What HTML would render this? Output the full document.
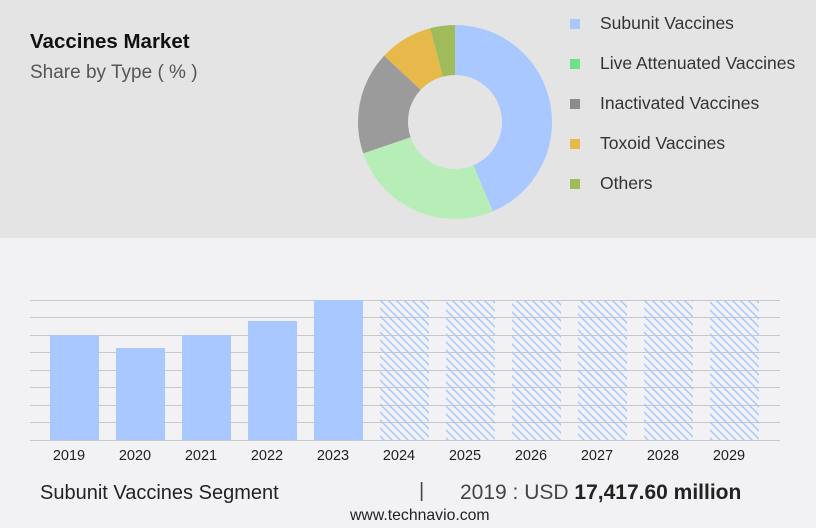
<!DOCTYPE html>
<html><head><meta charset="utf-8"><style>
body{margin:0;width:816px;height:528px;background:#f2f2f4;font-family:"Liberation Sans","DejaVu Sans",sans-serif;position:relative;overflow:hidden}
.top{position:absolute;left:0;top:0;width:816px;height:238px;background:#e4e4e4}
.t{position:absolute;white-space:nowrap;color:#222}
.lg{position:absolute;font-size:17.5px;color:#333}
.sw{position:absolute;width:10px;height:10px}
</style></head><body>
<div class="top"></div>
<div class="t" style="left:30px;top:30px;font-size:20.5px;font-weight:bold;color:#111">Vaccines Market</div>
<div class="t" style="left:30px;top:62px;font-size:19px;color:#555">Share by Type ( % )</div>
<svg style="position:absolute;left:0;top:0" width="816" height="238">
<g transform="rotate(-90 455 122)" fill="none" stroke-width="50">
<circle cx="455" cy="122" r="72" stroke="#a8c8ff" stroke-dasharray="197.3 452.4" stroke-dashoffset="0"/>
<circle cx="455" cy="122" r="72" stroke="#b7eeb8" stroke-dasharray="118.1 452.4" stroke-dashoffset="-197.3"/>
<circle cx="455" cy="122" r="72" stroke="#9b9b9b" stroke-dasharray="77.9 452.4" stroke-dashoffset="-315.4"/>
<circle cx="455" cy="122" r="72" stroke="#e6b94a" stroke-dasharray="40.2 452.4" stroke-dashoffset="-393.3"/>
<circle cx="455" cy="122" r="72" stroke="#9fbb5a" stroke-dasharray="18.9 452.4" stroke-dashoffset="-433.5"/>
</g></svg>
<div class="sw" style="left:570px;top:19px;background:#a8c8ff"></div><div class="lg" style="left:600px;top:13px">Subunit Vaccines</div>
<div class="sw" style="left:570px;top:59px;background:#6ee08a"></div><div class="lg" style="left:600px;top:53px">Live Attenuated Vaccines</div>
<div class="sw" style="left:570px;top:99px;background:#8c8c8c"></div><div class="lg" style="left:600px;top:93px">Inactivated Vaccines</div>
<div class="sw" style="left:570px;top:139px;background:#e6b94a"></div><div class="lg" style="left:600px;top:133px">Toxoid Vaccines</div>
<div class="sw" style="left:570px;top:179px;background:#9fbb5a"></div><div class="lg" style="left:600px;top:173px">Others</div>
<svg style="position:absolute;left:0;top:0" width="816" height="470">
<defs><pattern id="h" width="8" height="8" patternUnits="userSpaceOnUse"><path d="M-2,-2 L10,10 M-2,6 L2,10 M6,-2 L10,2" stroke="#a8c8ff" stroke-width="1.5"/></pattern></defs>
<g stroke="#c8c8c8" stroke-width="1">
<line x1="30" x2="780" y1="300.5" y2="300.5"/><line x1="30" x2="780" y1="317.5" y2="317.5"/><line x1="30" x2="780" y1="335.5" y2="335.5"/><line x1="30" x2="780" y1="352.5" y2="352.5"/><line x1="30" x2="780" y1="370.5" y2="370.5"/><line x1="30" x2="780" y1="387.5" y2="387.5"/><line x1="30" x2="780" y1="405.5" y2="405.5"/><line x1="30" x2="780" y1="422.5" y2="422.5"/><line x1="30" x2="780" y1="440.5" y2="440.5"/>
</g>
<g fill="#a8c8ff">
<rect x="50" y="335" width="49" height="105"/><rect x="116" y="348" width="49" height="92"/><rect x="182" y="335" width="49" height="105"/><rect x="248" y="321" width="49" height="119"/><rect x="314" y="300" width="49" height="140"/>
</g>
<g fill="url(#h)">
<rect x="380" y="300" width="49" height="140"/><rect x="446" y="300" width="49" height="140"/><rect x="512" y="300" width="49" height="140"/><rect x="578" y="300" width="49" height="140"/><rect x="644" y="300" width="49" height="140"/><rect x="710" y="300" width="49" height="140"/>
</g>
<g font-size="14.5" fill="#222" text-anchor="middle" font-family="Liberation Sans,sans-serif">
<text x="69" y="460">2019</text><text x="135" y="460">2020</text><text x="201" y="460">2021</text><text x="267" y="460">2022</text><text x="333" y="460">2023</text><text x="399" y="460">2024</text><text x="465" y="460">2025</text><text x="531" y="460">2026</text><text x="597" y="460">2027</text><text x="663" y="460">2028</text><text x="729" y="460">2029</text>
</g></svg>
<div class="t" style="left:40px;top:482px;font-size:20px">Subunit Vaccines Segment</div>
<div class="t" style="left:419px;top:480px;font-size:20px;color:#444">|</div>
<div class="t" style="left:460px;top:481px;font-size:21px;color:#444">2019 : USD <b style="color:#222">17,417.60 million</b></div>
<div class="t" style="left:350px;top:507px;font-size:15.8px">www.technavio.com</div>
</body></html>
